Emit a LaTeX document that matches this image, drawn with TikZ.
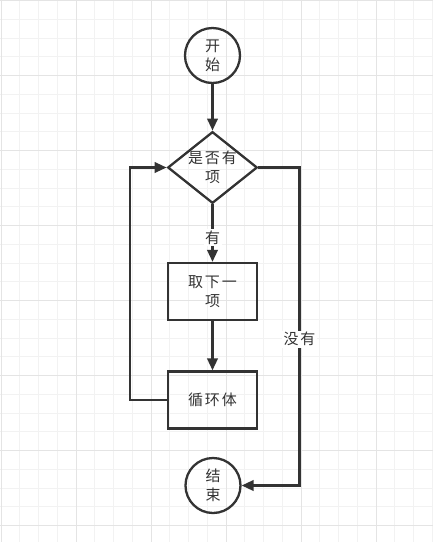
\documentclass[tikz,border=0pt]{standalone}
\usepackage{fontspec}
\newfontfamily\cjk[LetterSpace=12]{Noto Sans CJK SC}
\usetikzlibrary{shapes.geometric,arrows.meta}
\definecolor{ink}{HTML}{333333}
\definecolor{gridminor}{HTML}{F2F2F2}
\definecolor{gridmajor}{HTML}{E4E4E4}

\begin{document}
\begin{tikzpicture}[x=1pt, y=-1pt, line width=2.3pt, color=ink,
    >={Triangle[length=12pt,width=10.5pt]},
    every node/.style={font=\cjk\fontsize{15}{19}\selectfont, align=center, inner sep=0pt},
    term/.style={circle, draw, minimum size=55pt},
    decide/.style={diamond, draw, aspect=1.25, minimum width=89pt, minimum height=71pt},
    proc/.style={rectangle, draw, minimum width=89pt, minimum height=57pt},
    tag/.style={fill=white, inner sep=1.5pt}]
    \useasboundingbox (0,0) rectangle (433,542);
    \fill[white] (0,0) rectangle (433,542);
    % grid
    \foreach \i in {0,...,23}
        \draw[line width=1pt, gridminor] ({1+18.75*\i},0) -- ({1+18.75*\i},542);
    \foreach \j in {0,...,28}
        \draw[line width=1pt, gridminor] (0,{0.7+18.75*\j}) -- (433,{0.7+18.75*\j});
    \foreach \i in {0,4,...,20}
        \draw[line width=1pt, gridmajor] ({1+18.75*\i},0) -- ({1+18.75*\i},542);
    \foreach \j in {0,4,...,28}
        \draw[line width=1pt, gridmajor] (0,{0.7+18.75*\j}) -- (433,{0.7+18.75*\j});

    \node[term] (start) at (212.5,55.5) {开\\始};
    \node[decide] (check) at (212.5,167.5) {是否有\\项};
    \node[proc] (take) at (212.5,291.5) {取下一\\项};
    \node[proc] (body) at (212.5,400) {循环体};
    \node[term] (stop) at (213,485.5) {结\\束};

    \draw[->] (start) -- (check);
    \draw[->] (check) -- node[tag, pos=0.58] {有} (take);
    \draw[->] (take) -- (body);
    \draw[->] (body.west) -- ++(-37,0) |- (check.west);
    \draw[->] (check.east) -- ++(41,0) |- node[tag, pos=0.27] {没有} (stop.east);
\end{tikzpicture}
\end{document}
